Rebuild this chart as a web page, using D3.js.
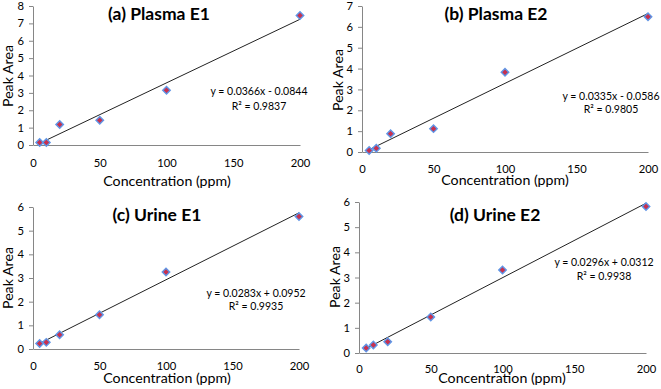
<!DOCTYPE html>
<meta charset="utf-8">
<style>
  body { margin: 0; background: #fff; }
  svg { font-family: Lato, "Open Sans", sans-serif; }
  .axis path, .axis line { stroke: #868686; }
  .axis text { fill: #000; font-size: 11.2px; font-family: Lato, sans-serif; }
  .title { font-weight: bold; font-size: 17.5px; text-anchor: middle; }
  .label { font-size: 14.2px; text-anchor: middle; }
  .eq { font-size: 10.5px; text-anchor: middle; }
</style>
<svg width="661" height="389"></svg>
<script src="https://d3js.org/d3.v7.min.js"></script>
<script>

// concentrations (ppm)
var conc = [5, 10, 20, 50, 100, 200];

// peak areas
var plasmaE1 = [0.15, 0.15, 1.18, 1.43, 3.15, 7.45];
var plasmaE2 = [0.07, 0.18, 0.87, 1.12, 3.82, 6.48];
var urineE1 = [0.23, 0.28, 0.60, 1.45, 3.25, 5.60];
var urineE2 = [0.20, 0.32, 0.45, 1.43, 3.30, 5.82];

var titles = ["(a) Plasma E1", "(b) Plasma E2", "(c) Urine E1", "(d) Urine E2"];
var slopes = [0.0366, 0.0335, 0.0283, 0.0296];
var intercepts = [-0.0844, -0.0586, 0.0952, 0.0312];
var eqText = ["y = 0.0366x - 0.0844", "y = 0.0335x - 0.0586", "y = 0.0283x + 0.0952", "y = 0.0296x + 0.0312"];
var r2Text = ["R\u00b2 = 0.9837", "R\u00b2 = 0.9805", "R\u00b2 = 0.9935", "R\u00b2 = 0.9938"];
var yMax = [8, 7, 6, 6];
var xTicks = [0, 50, 100, 150, 200];

var series = [plasmaE1, plasmaE2, urineE1, urineE2];

// layout of each panel (pixels)
var panels = [
  { x0: 33, x1: 300, yt: 6, yb: 145, title: [159, 20], ylab: [13, 76], xlab: [167, 186], eq: [259, 95, 110], tickY: 167 },
  { x0: 362, x1: 648, yt: 6, yb: 152, title: [496, 20], ylab: [343, 80], xlab: [505, 185], eq: [611, 100, 113], tickY: 173 },
  { x0: 33, x1: 299, yt: 207, yb: 349, title: [157, 221], ylab: [13, 278], xlab: [167, 383], eq: [256, 297, 310], tickY: 370 },
  { x0: 359, x1: 646, yt: 202, yb: 353, title: [495, 221], ylab: [340, 277], xlab: [502, 383], eq: [604, 266, 280], tickY: 373 }
];

var svg = d3.select("svg");

panels.forEach(function(p, i) {
  var x = d3.scaleLinear().domain([0, 200]).range([p.x0, p.x1]);
  var y = d3.scaleLinear().domain([0, yMax[i]]).range([p.yb, p.yt]);
  var g = svg.append("g");

  g.append("g")
      .attr("class", "axis")
      .attr("transform", "translate(0," + p.yb + ")")
      .call(d3.axisBottom(x).tickValues(xTicks).tickSize(0).tickSizeOuter(0))
    .selectAll("text")
      .attr("y", p.tickY - p.yb)
      .attr("dy", 0);

  g.append("g")
      .attr("class", "axis")
      .attr("transform", "translate(" + p.x0 + ",0)")
      .call(d3.axisLeft(y).ticks(yMax[i]).tickSize(4).tickSizeOuter(0).tickPadding(5));

  g.selectAll(".domain").attr("stroke", "#868686");

  // trend line
  var fit = function(c) { return slopes[i] * c + intercepts[i]; };
  g.append("line")
      .attr("x1", x(conc[0])).attr("y1", y(fit(conc[0])))
      .attr("x2", x(conc[conc.length - 1])).attr("y2", y(fit(conc[conc.length - 1])))
      .attr("stroke", "#222")
      .attr("stroke-width", 1);

  g.selectAll("path.pt")
      .data(series[i])
    .enter().append("path")
      .attr("class", "pt")
      .attr("d", d3.symbol(d3.symbolSquare, 28))
      .attr("transform", function(d, j) { return "translate(" + x(conc[j]) + "," + y(d) + ") rotate(45)"; })
      .attr("fill", "#c8304e")
      .attr("stroke", "#5f96e6")
      .attr("stroke-width", 1.4);

  g.append("text").attr("class", "title")
      .attr("x", p.title[0]).attr("y", p.title[1]).text(titles[i]);

  g.append("text").attr("class", "label")
      .attr("transform", "translate(" + p.ylab[0] + "," + p.ylab[1] + ") rotate(-90)")
      .text("Peak Area");

  g.append("text").attr("class", "label")
      .attr("x", p.xlab[0]).attr("y", p.xlab[1]).text("Concentration (ppm)");

  g.append("text").attr("class", "eq")
      .attr("x", p.eq[0]).attr("y", p.eq[1]).text(eqText[i]);
  g.append("text").attr("class", "eq")
      .attr("x", p.eq[0]).attr("y", p.eq[2]).text(r2Text[i]);
});

</script>
